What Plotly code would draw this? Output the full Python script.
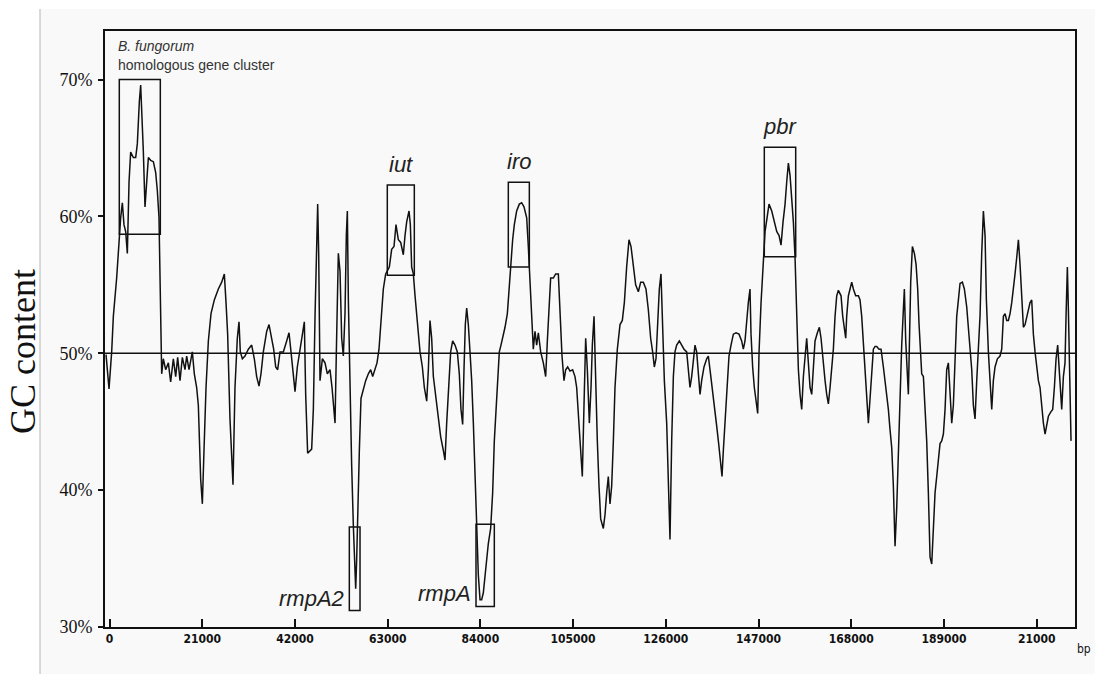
import plotly.graph_objects as go

# ---- GC-content profile (position in kb, GC in %) ----
position_kb_a = [
    -0.79, -0.11, 0.49, 0.87, 1.62, 2.15, 2.53, 2.91, 3.28, 3.66,
    4.04, 4.42, 4.79, 5.40, 5.93, 6.30, 6.53, 6.76, 7.06, 7.29,
    7.66, 8.04, 8.42, 8.80, 9.32, 9.93, 10.46, 10.83, 11.21, 11.59,
    11.82, 12.19, 12.72, 13.33, 13.85, 14.46, 14.99, 15.44, 15.97, 16.50,
    17.10, 17.48, 18.01, 18.76, 19.21, 19.74, 20.12, 20.65, 21.03, 21.40,
    21.86, 22.39, 22.99, 23.74, 24.65, 25.41, 26.01, 26.39, 26.76, 27.29,
    27.67, 27.97, 28.42, 28.95, 29.33, 29.63, 30.09, 30.69, 31.45, 32.20,
    32.80, 33.33, 33.86, 34.31, 34.84, 35.60, 36.13, 36.73, 37.18, 37.64,
    38.09, 38.62, 39.37, 40.13, 40.66, 41.11, 41.64, 42.02, 42.54, 43.15,
    43.68, 44.13, 44.43, 44.66, 44.88, 45.79, 46.17, 46.55, 46.85, 47.15,
    47.38, 47.68, 48.21, 48.81, 49.34, 49.94, 50.40, 50.77, 51.08, 51.38,
    51.60, 51.83, 52.21, 52.59, 52.96, 53.34, 53.64, 53.87, 54.10, 54.32,
    54.55, 54.85, 55.23, 55.61, 55.76, 55.98, 56.21, 56.59, 56.96, 57.49,
    58.02, 58.63, 59.15, 59.61, 60.14, 60.59, 61.04, 61.49, 62.02, 62.55,
    63.00, 63.38, 63.91, 64.44, 64.89, 65.42, 65.95, 66.55, 66.93, 67.31,
    67.84, 68.14, 68.44, 68.82, 69.20, 69.72, 70.33, 70.86, 71.31, 71.84,
    72.22,
]
gc_a = [
    49.9, 47.4, 50.1, 52.7, 55.5, 58.6, 59.9, 61.0, 59.4, 58.9,
    57.3, 62.5, 64.7, 64.3, 64.3, 65.3, 67.1, 68.4, 69.6, 67.9,
    64.8, 60.7, 62.2, 64.3, 64.1, 64.0, 63.2, 61.9, 59.9, 51.9,
    48.5, 49.6, 48.8, 49.3, 47.9, 49.6, 48.3, 49.7, 48.0, 49.7,
    48.8, 49.8, 48.8, 50.1, 48.5, 47.5, 46.2, 40.8, 39.0, 42.9,
    47.5, 50.9, 52.9, 53.9, 54.7, 55.2, 55.8, 53.7, 51.4, 45.2,
    42.3, 40.4, 47.5, 51.1, 52.3, 50.1, 49.6, 49.8, 50.3, 50.6,
    49.6, 48.3, 47.6, 48.5, 50.1, 51.6, 52.1, 51.1, 50.3, 49.0,
    48.8, 50.1, 50.1, 50.9, 51.5, 50.1, 48.3, 47.2, 49.0, 50.3,
    51.6, 52.3, 47.0, 44.9, 42.7, 43.0, 45.9, 52.7, 57.8, 60.9,
    57.3, 48.0, 49.6, 49.3, 48.5, 48.8, 47.5, 45.9, 44.9, 50.1,
    54.2, 57.3, 56.0, 51.1, 49.8, 52.9, 58.6, 60.4, 53.9, 50.1,
    47.5, 41.8, 37.4, 34.6, 32.8, 34.9, 38.5, 42.9, 46.7, 47.4,
    48.0, 48.5, 48.8, 48.3, 48.8, 49.3, 50.3, 52.7, 54.7, 55.8,
    56.1, 56.3, 57.6, 57.8, 59.4, 58.3, 58.1, 57.2, 58.6, 59.6,
    60.4, 59.4, 56.3, 55.8, 54.2, 52.4, 50.1, 49.0, 47.5, 46.5,
    48.8,
]
position_kb_b = [
    72.59, 72.97, 73.35, 73.95, 74.48, 75.01, 75.61, 75.99, 76.37, 76.74,
    77.27, 77.72, 78.25, 78.78, 79.23, 79.61, 79.99, 80.29, 80.59, 80.90,
    81.27, 81.65, 82.03, 82.41, 82.78, 83.16, 83.54, 83.92, 84.29, 84.67,
    85.27, 85.80, 86.33, 86.78, 87.16, 87.54, 87.92, 88.29, 88.67, 89.05,
    89.58, 90.11, 90.56, 90.94, 91.31, 91.69, 92.22, 92.82, 93.35, 93.88,
    94.49, 94.86, 95.24, 95.62, 95.99, 96.37, 96.75, 97.13, 97.66, 98.26,
    98.79, 99.17, 99.54, 99.92, 100.53, 101.05, 101.66, 102.04, 102.49, 102.94,
    103.32, 103.77, 104.30, 104.90, 105.43, 105.81, 106.26, 106.72, 107.09, 107.47,
    107.85, 108.23, 108.68, 109.06, 109.36, 109.74, 110.11, 110.49, 110.87, 111.25,
    111.85, 112.23, 112.61, 112.98, 113.36, 113.74, 114.12, 114.49, 115.02, 115.63,
    116.15, 116.61, 117.13, 117.66, 118.12, 118.65, 119.17, 119.78, 120.31, 120.91,
    121.51, 122.04, 122.57, 123.02, 123.40, 123.78, 124.16, 124.53, 124.91, 125.21,
    125.67, 126.20, 126.57, 126.95, 127.33, 127.71, 128.08, 128.46, 129.06, 129.59,
    130.12, 130.73, 131.10, 131.48, 131.86, 132.24, 132.61, 132.99, 133.37, 133.75,
    134.12, 134.65, 135.26, 135.63, 136.01, 136.54, 136.99, 137.52, 137.97, 138.43,
    138.73, 139.03, 139.41, 139.79, 140.31, 140.77, 141.30, 141.90, 142.58, 143.18,
    143.56, 143.94, 144.32, 144.69, 145.07, 145.30, 145.67, 146.05,
]
gc_b = [
    52.4, 51.1, 48.3, 46.7, 45.2, 43.9, 42.9, 42.2, 44.9, 47.5,
    50.1, 50.9, 50.6, 50.1, 48.5, 45.9, 44.8, 48.8, 52.1, 53.3,
    52.1, 50.1, 48.0, 44.9, 40.8, 37.4, 33.8, 32.0, 32.0, 32.5,
    34.6, 36.1, 37.2, 39.8, 43.6, 45.9, 48.8, 50.1, 50.6, 51.1,
    51.9, 52.9, 55.2, 56.8, 58.3, 59.4, 60.4, 60.9, 61.0, 60.7,
    59.9, 57.8, 55.2, 52.1, 50.3, 51.6, 50.6, 51.5, 50.1, 49.3,
    48.3, 50.9, 53.7, 55.5, 55.5, 55.8, 55.8, 53.2, 49.8, 48.0,
    48.8, 49.0, 48.7, 48.8, 48.3, 47.5, 44.9, 42.9, 41.0, 46.2,
    51.1, 48.8, 44.9, 47.5, 50.6, 52.7, 47.5, 43.6, 40.3, 37.9,
    37.2, 38.2, 39.8, 41.0, 39.0, 40.3, 43.6, 47.5, 50.3, 52.1,
    52.4, 53.7, 56.3, 58.3, 57.8, 56.3, 55.0, 54.5, 55.2, 55.2,
    54.7, 53.2, 51.1, 50.1, 49.0, 49.6, 52.7, 54.7, 55.8, 52.7,
    48.0, 44.9, 41.0, 36.4, 43.6, 48.3, 50.1, 50.6, 50.9, 50.6,
    50.3, 50.1, 48.8, 47.5, 48.3, 49.6, 50.6, 50.1, 48.5, 47.0,
    48.0, 49.0, 49.6, 49.8, 48.8, 47.2, 45.9, 44.7, 43.4, 42.1,
    41.0, 42.9, 45.2, 47.5, 49.8, 50.6, 51.4, 51.5, 51.4, 50.9,
    50.3, 50.9, 52.7, 53.7, 54.7, 51.4, 49.0, 47.5,
]
position_kb_c = [
    146.81, 147.12, 147.57, 148.02, 148.48, 148.93, 149.38, 149.99, 150.59, 151.12,
    151.65, 152.10, 152.55, 153.01, 153.38, 153.76, 154.14, 154.52, 154.89, 155.27,
    155.65, 156.03, 156.40, 156.78, 157.16, 157.54, 157.91, 158.29, 158.67, 159.05,
    159.42, 159.80, 160.33, 160.78, 161.16, 161.54, 162.07, 162.44, 162.82, 163.20,
    163.58, 163.95, 164.33, 164.71, 165.09, 165.69, 166.07, 166.44, 166.75, 166.97,
    167.35, 167.73, 168.11, 168.48, 169.01, 169.62, 169.99, 170.37, 170.75, 171.13,
    171.50, 171.88, 172.26, 172.64, 173.01, 173.39, 173.77, 174.30, 174.75, 175.28,
    175.66, 176.03, 176.41, 176.79, 177.17, 177.54, 177.92, 178.30, 178.68, 179.05,
    179.43, 179.81, 180.03, 180.34, 180.64, 180.94, 181.17, 181.47, 181.85, 182.30,
    182.68, 183.05, 183.36, 183.66, 183.96, 184.34, 184.72, 185.09, 185.47, 185.85,
    186.23, 186.60, 186.98, 187.36, 187.74, 188.11, 188.49, 188.87, 189.25, 189.62,
    190.00, 190.38, 190.76, 191.13, 191.51, 191.89, 192.27, 192.64, 193.17, 193.62,
    194.15, 194.53, 194.91, 195.29, 195.66, 196.04, 196.42, 196.80, 197.17, 197.55,
    197.93, 198.31, 198.61, 199.06, 199.44, 199.82, 200.19, 200.57, 201.10, 201.70,
    202.08, 202.46, 202.84, 203.21, 203.59, 203.97, 204.35, 204.72, 205.10, 205.48,
    205.86, 206.23, 206.61, 206.99, 207.37, 207.74, 208.12, 208.50, 208.88, 209.25,
    209.63, 210.01, 210.39, 210.76, 211.14, 211.52, 211.90, 212.27, 212.65, 213.18,
    213.63, 214.01, 214.39, 214.76, 215.07, 215.37, 215.67, 216.05, 216.42, 216.65,
    216.95, 217.18, 217.41, 217.63, 217.78,
]
gc_c = [
    45.6, 50.1, 53.7, 56.3, 58.9, 59.9, 60.9, 60.4, 59.6, 58.9,
    58.6, 57.9, 59.6, 60.9, 62.5, 63.9, 63.0, 61.4, 59.6, 57.0,
    52.1, 48.8, 47.0, 45.9, 48.3, 50.1, 51.1, 49.3, 47.5, 47.0,
    49.0, 50.9, 51.5, 51.9, 51.1, 49.6, 48.0, 47.0, 46.3, 47.5,
    49.0, 50.3, 52.7, 54.2, 54.6, 54.2, 52.7, 51.6, 51.1, 52.7,
    54.2, 54.7, 55.2, 54.7, 54.2, 54.2, 53.9, 52.7, 50.6, 48.3,
    46.2, 44.9, 46.7, 48.8, 50.3, 50.5, 50.5, 50.3, 50.3, 49.0,
    48.0, 47.0, 45.9, 44.4, 43.1, 40.3, 35.9, 38.7, 42.9, 46.2,
    50.6, 53.2, 54.7, 50.9, 48.3, 47.0, 50.6, 55.2, 57.8, 57.3,
    56.5, 54.7, 52.1, 49.6, 48.5, 48.3, 46.2, 43.6, 39.8, 35.1,
    34.6, 37.2, 39.8, 41.0, 42.3, 43.4, 43.6, 44.1, 45.9, 48.8,
    49.3, 47.5, 44.9, 46.2, 49.3, 52.7, 53.9, 55.1, 55.2, 54.7,
    53.4, 51.9, 50.1, 48.8, 46.2, 45.2, 48.0, 50.6, 52.7, 57.3,
    60.4, 58.6, 53.9, 50.1, 47.5, 45.9, 48.0, 49.0, 49.6, 49.8,
    50.3, 52.7, 52.9, 52.4, 52.4, 52.9, 53.7, 55.0, 55.8, 57.0,
    58.3, 56.5, 53.7, 51.9, 52.1, 52.7, 53.2, 53.7, 53.9, 51.4,
    50.1, 49.0, 48.0, 47.5, 45.9, 44.9, 44.1, 44.9, 45.4, 45.7,
    45.9, 47.5, 49.6, 50.6, 48.8, 47.5, 45.9, 48.3, 49.3, 52.7,
    56.3, 53.2, 50.1, 46.7, 43.6,
]

# ---- axis ticks ----
x_ticks = [0, 21000, 42000, 63000, 84000, 105000, 126000, 147000, 168000, 189000, 210000]
x_tick_labels = ["0", "21000", "42000", "63000", "84000", "105000", "126000",
                 "147000", "168000", "189000", "21000"]
y_ticks = [30, 40, 50, 60, 70]
y_tick_labels = ["30%", "40%", "50%", "60%", "70%"]

# ---- boxed regions (bp start/end, GC low/high) ----
region_labels = ["", "iut", "iro", "pbr", "rmpA2", "rmpA"]
region_label_side = ["none", "top", "top", "top", "left", "left"]
region_start = [2220, 62920, 90330, 148310, 54320, 83010]
region_end = [11510, 69040, 95090, 155420, 56740, 87160]
region_low = [58.7, 55.7, 56.3, 57.05, 31.2, 31.5]
region_high = [70.0, 62.3, 62.5, 65.05, 37.3, 37.5]

position_kb = position_kb_a + position_kb_b + position_kb_c
gc = gc_a + gc_b + gc_c
x_bp = [round(k * 1000) for k in position_kb]

W, H = 1095, 674
L, R, T, B = 105, 20, 31, 47
pw, ph = W - L - R, H - T - B


def px(xp):
    return (xp - L) / pw


def py(yp):
    return (H - B - yp) / ph


fig = go.Figure()
fig.add_trace(go.Scatter(x=x_bp, y=gc, mode="lines",
                         line=dict(color="#111111", width=1.5),
                         hoverinfo="skip", showlegend=False))

shapes = [
    # light grey panel with its left rule
    dict(type="rect", xref="paper", yref="paper", x0=px(40), x1=px(W + 2),
         y0=py(H + 2), y1=py(9), fillcolor="#f9f9f9", line=dict(width=0), layer="below"),
    dict(type="line", xref="paper", yref="paper", x0=px(40), x1=px(40),
         y0=py(H + 2), y1=py(9), line=dict(color="#b5b5b5", width=1), layer="below"),
    # 50% reference line
    dict(type="line", xref="paper", yref="y", x0=0, x1=1, y0=50, y1=50,
         line=dict(color="#111111", width=1.5)),
]
annotations = []
for lab, side, x0, x1, y0, y1 in zip(region_labels, region_label_side, region_start,
                                      region_end, region_low, region_high):
    shapes.append(dict(type="rect", xref="x", yref="y", x0=x0, x1=x1, y0=y0, y1=y1,
                       line=dict(color="#111111", width=1.5), fillcolor="rgba(0,0,0,0)"))
    if side == "top":
        annotations.append(dict(x=(x0 + x1) / 2, y=y1, xref="x", yref="y", text=f"<i>{lab}</i>",
                                showarrow=False, xanchor="center", yanchor="bottom", yshift=6,
                                font=dict(family="Liberation Sans, Arial", size=22, color="#222222")))
    elif side == "left":
        annotations.append(dict(x=x0, y=y0, xref="x", yref="y", text=f"<i>{lab}</i>",
                                showarrow=False, xanchor="right", yanchor="bottom", xshift=-3, yshift=-2,
                                font=dict(family="Liberation Sans, Arial", size=22, color="#222222")))

annotations += [
    dict(x=px(116), y=py(46), xref="paper", yref="paper", text="<i>B. fungorum</i>",
         showarrow=False, xanchor="left", yanchor="middle",
         font=dict(family="Liberation Sans, Arial", size=14, color="#333333")),
    dict(x=px(116), y=py(65), xref="paper", yref="paper", text="homologous gene cluster",
         showarrow=False, xanchor="left", yanchor="middle",
         font=dict(family="Liberation Sans, Arial", size=14, color="#333333")),
    dict(x=px(1084), y=py(649), xref="paper", yref="paper", text="bp",
         showarrow=False, xanchor="center", yanchor="middle",
         font=dict(family="DejaVu Sans Condensed, Liberation Sans Narrow, sans-serif", size=12, color="#111111")),
    dict(x=px(23), y=py(352), xref="paper", yref="paper", text="GC content",
         showarrow=False, xanchor="center", yanchor="middle", textangle=-90,
         font=dict(family="Liberation Serif, Times New Roman, serif", size=36, color="#111111")),
]

fig.update_layout(
    width=W, height=H,
    margin=dict(l=L, r=R, t=T, b=B, pad=0),
    paper_bgcolor="white", plot_bgcolor="#f9f9f9",
    shapes=shapes, annotations=annotations, showlegend=False,
    xaxis=dict(range=[-1020, 218680], showgrid=False, zeroline=False,
               showline=True, linecolor="#111111", linewidth=2, mirror=True,
               ticks="inside", ticklen=8, tickwidth=1.5, tickcolor="#111111",
               tickvals=x_ticks, ticktext=x_tick_labels,
               tickfont=dict(family="DejaVu Sans Condensed, Liberation Sans Narrow, sans-serif",
                             size=12, color="#111111", weight="bold")),
    yaxis=dict(range=[30, 73.55], showgrid=False, zeroline=False,
               showline=True, linecolor="#111111", linewidth=2, mirror=True,
               ticks="outside", ticklen=5, tickwidth=1.5, tickcolor="#111111",
               tickvals=y_ticks, ticktext=y_tick_labels, ticklabelstandoff=2,
               tickfont=dict(family="Liberation Serif, Times New Roman, serif",
                             size=18, color="#111111")),
)

fig.write_html("out.html", config={"displayModeBar": False},
               post_script="document.body.style.margin='0';document.body.style.padding='0';")
